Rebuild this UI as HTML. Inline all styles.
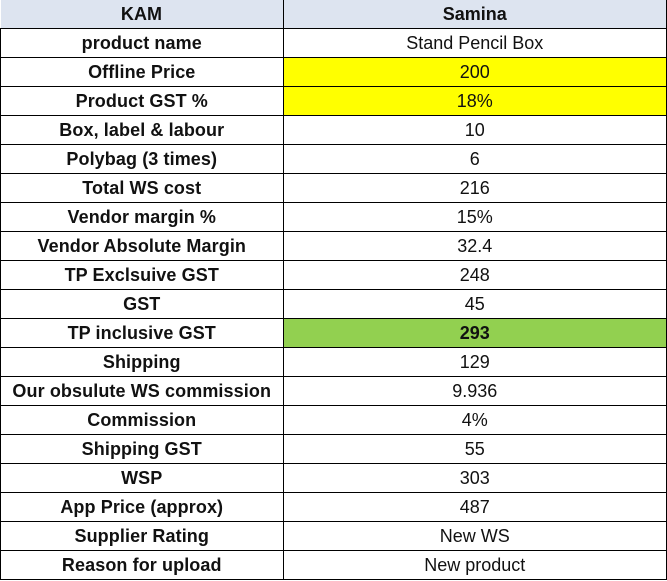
<!DOCTYPE html>
<html><head><style>
body{margin:0;background:#fff;width:667px;height:581px;overflow:hidden;font-family:"Liberation Sans",sans-serif;}
table{border-collapse:collapse;position:absolute;left:0;top:0;width:667px;table-layout:fixed;}
td{height:27px;padding:1px 0 0 0;text-align:center;font-size:18px;color:#111;border:1px solid #000;line-height:27px;white-space:nowrap;overflow:hidden;}
td.a{width:282px;font-weight:bold;letter-spacing:0.1px;}
tr.h td{background:#dde4f0;font-weight:bold;border-top:none;}
tr.h td.a{border-left:none;}
.y{background:#ffff00;}
.g{background:#92d050;font-weight:bold;}
</style></head><body>
<table>
<tr class="h"><td class="a">KAM</td><td>Samina</td></tr>
<tr><td class="a">product name</td><td>Stand Pencil Box</td></tr>
<tr><td class="a">Offline Price</td><td class="y">200</td></tr>
<tr><td class="a">Product GST %</td><td class="y">18%</td></tr>
<tr><td class="a">Box, label &amp; labour</td><td>10</td></tr>
<tr><td class="a">Polybag (3 times)</td><td>6</td></tr>
<tr><td class="a">Total WS cost</td><td>216</td></tr>
<tr><td class="a">Vendor margin %</td><td>15%</td></tr>
<tr><td class="a">Vendor Absolute Margin</td><td>32.4</td></tr>
<tr><td class="a">TP Exclsuive GST</td><td>248</td></tr>
<tr><td class="a">GST</td><td>45</td></tr>
<tr><td class="a">TP inclusive GST</td><td class="g">293</td></tr>
<tr><td class="a">Shipping</td><td>129</td></tr>
<tr><td class="a">Our obsulute WS commission</td><td>9.936</td></tr>
<tr><td class="a">Commission</td><td>4%</td></tr>
<tr><td class="a">Shipping GST</td><td>55</td></tr>
<tr><td class="a">WSP</td><td>303</td></tr>
<tr><td class="a">App Price (approx)</td><td>487</td></tr>
<tr><td class="a">Supplier Rating</td><td>New WS</td></tr>
<tr><td class="a">Reason for upload</td><td>New product</td></tr>
</table>
</body></html>
